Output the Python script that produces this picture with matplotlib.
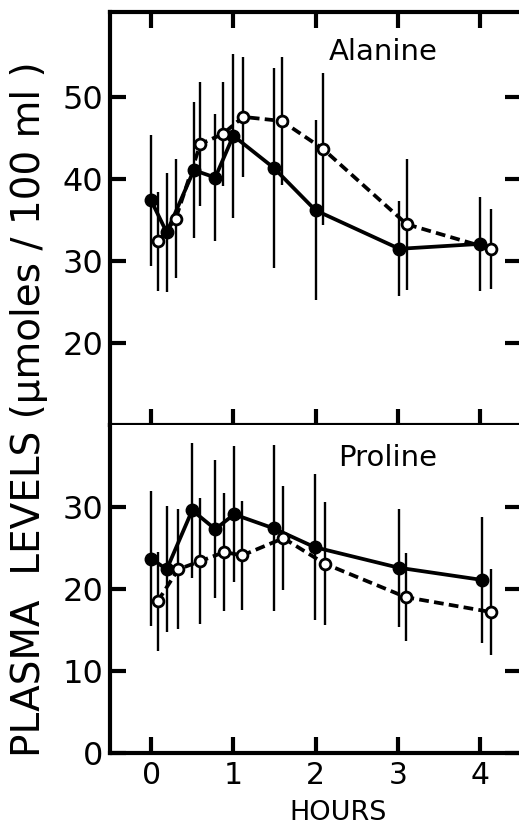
import matplotlib
matplotlib.use("Agg")
import matplotlib.pyplot as plt

# Alanine (top panel)
ala_t_filled = [0.0, 0.19, 0.52, 0.78, 1.0, 1.49, 2.0, 3.02, 4.0]
ala_filled = [37.4, 33.5, 41.1, 40.2, 45.3, 41.4, 36.2, 31.5, 32.1]
ala_filled_err = [8.0, 7.3, 8.3, 7.7, 10.0, 12.2, 11.0, 5.8, 5.7]
ala_t_open = [0.09, 0.30, 0.60, 0.87, 1.12, 1.59, 2.09, 3.11, 4.13]
ala_open = [32.4, 35.2, 44.3, 45.5, 47.6, 47.1, 43.7, 34.5, 31.5]
ala_open_err = [6.0, 7.3, 7.6, 6.3, 7.3, 7.8, 9.3, 8.0, 4.9]

# Proline (bottom panel)
pro_t_filled = [0.0, 0.19, 0.50, 0.78, 1.01, 1.49, 1.99, 3.01, 4.03]
pro_filled = [23.7, 22.4, 29.6, 27.3, 29.1, 27.4, 25.1, 22.6, 21.1]
pro_filled_err = [8.2, 7.7, 8.2, 8.4, 8.3, 10.1, 8.9, 7.2, 7.7]
pro_t_open = [0.08, 0.33, 0.60, 0.89, 1.11, 1.61, 2.11, 3.10, 4.13]
pro_open = [18.5, 22.4, 23.4, 24.5, 24.1, 26.2, 23.1, 19.0, 17.2]
pro_open_err = [6.0, 7.3, 7.7, 7.2, 6.6, 6.3, 7.5, 5.4, 5.2]

x_ticks = [0, 1, 2, 3, 4]
ala_yticks = [20, 30, 40, 50]
pro_yticks = [0, 10, 20, 30]

plt.rcParams['font.family'] = ['DejaVu Sans']

fig = plt.figure(figsize=(5.19, 8.27), dpi=100)
W, H = 519, 827
ax1 = fig.add_axes([110 / W, (H - 425) / H, 411 / W, 413 / H])
ax2 = fig.add_axes([110 / W, (H - 753) / H, 411 / W, 328 / H])

SPINE = 3.0
TICKW = 3.0
TICKL = 11.5


def draw(ax, tf, yf, ef, to, yo, eo):
    ax.errorbar(tf, yf, yerr=ef, fmt='none', ecolor='black', elinewidth=1.7, capsize=0, zorder=2)
    ax.errorbar(to, yo, yerr=eo, fmt='none', ecolor='black', elinewidth=1.7, capsize=0, zorder=2)
    ax.plot(tf, yf, '-', color='black', lw=2.7, zorder=3)
    ax.plot(to, yo, color='black', lw=2.7, dashes=(2.6, 1.4), zorder=3)
    ax.plot(tf, yf, 'o', color='black', ms=9, zorder=4)
    ax.plot(to, yo, 'o', mfc='white', mec='black', mew=2.0, ms=7.8, zorder=5)


draw(ax1, ala_t_filled, ala_filled, ala_filled_err, ala_t_open, ala_open, ala_open_err)
draw(ax2, pro_t_filled, pro_filled, pro_filled_err, pro_t_open, pro_open, pro_open_err)

ax1.set_xlim(-0.5, 4.5)
ax2.set_xlim(-0.5, 4.5)
ax1.set_ylim(10, 60.4)
ax2.set_ylim(0, 40)

for ax in (ax1, ax2):
    for s in ax.spines.values():
        s.set_linewidth(SPINE)
    ax.set_xticks(x_ticks)
    ax.tick_params(direction='in', length=TICKL, width=TICKW)
    ax.tick_params(axis='y', labelsize=23, pad=5)
    ax.tick_params(axis='x', labelsize=21.5, pad=6)

ax1.set_yticks(ala_yticks)
ax1.tick_params(axis='x', top=True, bottom=True, labelbottom=False)
ax1.tick_params(axis='y', left=True, right=True)

ax2.set_yticks(pro_yticks)
ax2.tick_params(axis='x', top=False, bottom=True)
ax2.tick_params(axis='y', left=True, right=True)
ax2.spines['top'].set_visible(False)

ax1.text(2.16, 54.6, 'Alanine', fontsize=21)
ax2.text(2.27, 35.0, 'Proline', fontsize=21)

fig.text(338 / W, 1 - 820 / H, 'HOURS', fontsize=19.5, ha='center', va='baseline')
fig.text(29 / W, 1 - 409 / H, 'PLASMA  LEVELS (\u03bcmoles / 100 ml )', rotation=90,
         fontsize=28, ha='center', va='center')

fig.savefig('out.png', dpi=100)
